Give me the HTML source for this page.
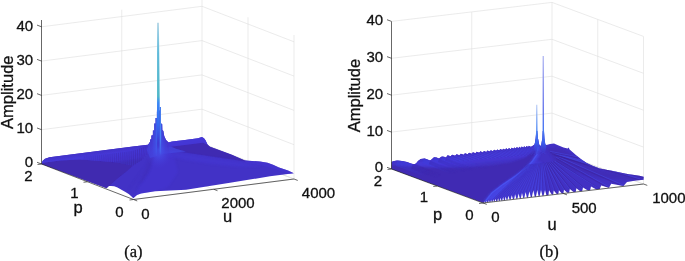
<!DOCTYPE html>
<html lang="en"><head><meta charset="utf-8"><title>Figure</title>
<style>html,body{margin:0;padding:0;background:#fff}body{width:685px;height:261px;overflow:hidden}svg{display:block}</style>
</head><body>
<svg width="685" height="261" viewBox="0 0 685 261">
<defs>
<linearGradient id="spikeA" gradientUnits="userSpaceOnUse" x1="0" y1="22.8" x2="0" y2="145" spreadMethod="pad">
<stop offset="0" stop-color="#b4d6e6"/><stop offset="0.1" stop-color="#8ecae2"/><stop offset="0.25" stop-color="#5fbada"/><stop offset="0.6" stop-color="#50b8c8"/><stop offset="0.655" stop-color="#3a88f5"/><stop offset="0.84" stop-color="#3468f0"/><stop offset="0.95" stop-color="#3a44dc"/><stop offset="1" stop-color="#3a34cc"/>
</linearGradient>
<linearGradient id="leftA" gradientUnits="userSpaceOnUse" x1="104" y1="190" x2="92" y2="158">
<stop offset="0" stop-color="#3b29b2"/><stop offset="0.5" stop-color="#3a31c6"/><stop offset="1" stop-color="#3a36d2"/>
</linearGradient>
<linearGradient id="fadeA" x1="0" y1="0" x2="0" y2="1"><stop offset="0" stop-color="#3a34cc" stop-opacity="0"/><stop offset="1" stop-color="#3a34cc" stop-opacity="1"/></linearGradient>
<linearGradient id="leftB" gradientUnits="userSpaceOnUse" x1="440" y1="190" x2="428" y2="158">
<stop offset="0" stop-color="#3b29b2"/><stop offset="0.5" stop-color="#3a31c8"/><stop offset="1" stop-color="#3a37d4"/></linearGradient>
<linearGradient id="spikeB1" gradientUnits="userSpaceOnUse" x1="0" y1="104.8" x2="0" y2="153">
<stop offset="0" stop-color="#b4c8f4"/><stop offset="0.25" stop-color="#7ea6f3"/><stop offset="0.55" stop-color="#4a86f5"/><stop offset="0.8" stop-color="#3a5cec"/><stop offset="1" stop-color="#3a40d8" stop-opacity="0.2"/></linearGradient>
<linearGradient id="spikeB2" gradientUnits="userSpaceOnUse" x1="0" y1="55.9" x2="0" y2="153">
<stop offset="0" stop-color="#b2b8f2"/><stop offset="0.25" stop-color="#8a94ee"/><stop offset="0.55" stop-color="#6676ec"/><stop offset="0.78" stop-color="#4478f5"/><stop offset="0.9" stop-color="#3a5cec"/><stop offset="1" stop-color="#3a40d8" stop-opacity="0.2"/></linearGradient>
<linearGradient id="fadeLt" x1="0" y1="0" x2="1" y2="1"><stop offset="0" stop-color="#3a40e0" stop-opacity="1"/><stop offset="1" stop-color="#3a40e0" stop-opacity="0"/></linearGradient>
<linearGradient id="fadeDk" x1="0" y1="0" x2="1" y2="1"><stop offset="0" stop-color="#3a24a6" stop-opacity="1"/><stop offset="1" stop-color="#3a24a6" stop-opacity="0"/></linearGradient>
<linearGradient id="wallA" gradientUnits="userSpaceOnUse" x1="100" y1="150.8" x2="101.9" y2="165.8">
<stop offset="0" stop-color="#4232c8"/><stop offset="0.3" stop-color="#4538d8"/><stop offset="0.75" stop-color="#4435d0"/><stop offset="1" stop-color="#4130be"/></linearGradient>
<linearGradient id="wallB" gradientUnits="userSpaceOnUse" x1="440" y1="157" x2="441.6" y2="170.5">
<stop offset="0" stop-color="#4232c8"/><stop offset="0.3" stop-color="#4539da"/><stop offset="0.7" stop-color="#4435d0"/><stop offset="1" stop-color="#4130be"/></linearGradient>
<radialGradient id="glowA"><stop offset="0" stop-color="#4658ee" stop-opacity="1"/><stop offset="0.45" stop-color="#4648e4" stop-opacity="0.6"/><stop offset="1" stop-color="#4438d4" stop-opacity="0"/></radialGradient>
<linearGradient id="maskGradA" gradientUnits="userSpaceOnUse" x1="0" y1="138" x2="0" y2="156"><stop offset="0" stop-color="#fff"/><stop offset="1" stop-color="#000"/></linearGradient>
<filter id="blur1" x="-20%" y="-20%" width="140%" height="140%"><feGaussianBlur stdDeviation="1.2"/></filter>
<filter id="blur05" x="-20%" y="-20%" width="140%" height="140%"><feGaussianBlur stdDeviation="0.6"/></filter>
<filter id="blur2" x="-20%" y="-20%" width="140%" height="140%"><feGaussianBlur stdDeviation="2.2"/></filter>
<linearGradient id="surfA" x1="0" y1="0" x2="1" y2="0">
<stop offset="0" stop-color="#3a32cc"/><stop offset="0.3" stop-color="#3a34d0"/><stop offset="0.5" stop-color="#3c2cb8"/><stop offset="1" stop-color="#3e2cc0"/>
</linearGradient>
</defs>
<rect width="685" height="261" fill="#fff"/>
<g id="plot-a">
<line x1="41.50" y1="164.00" x2="202.00" y2="143.50" stroke="#dedede" stroke-width="0.6"/>
<line x1="202.00" y1="143.50" x2="294.00" y2="179.00" stroke="#dedede" stroke-width="0.6"/>
<line x1="41.50" y1="129.70" x2="202.00" y2="109.20" stroke="#dedede" stroke-width="0.6"/>
<line x1="202.00" y1="109.20" x2="294.00" y2="144.70" stroke="#dedede" stroke-width="0.6"/>
<line x1="41.50" y1="95.40" x2="202.00" y2="74.90" stroke="#dedede" stroke-width="0.6"/>
<line x1="202.00" y1="74.90" x2="294.00" y2="110.40" stroke="#dedede" stroke-width="0.6"/>
<line x1="41.50" y1="61.10" x2="202.00" y2="40.60" stroke="#dedede" stroke-width="0.6"/>
<line x1="202.00" y1="40.60" x2="294.00" y2="76.10" stroke="#dedede" stroke-width="0.6"/>
<line x1="41.50" y1="26.80" x2="202.00" y2="6.30" stroke="#dedede" stroke-width="0.6"/>
<line x1="202.00" y1="6.30" x2="294.00" y2="41.80" stroke="#dedede" stroke-width="0.6"/>
<line x1="121.75" y1="153.75" x2="121.75" y2="9.75" stroke="#dedede" stroke-width="0.6"/>
<line x1="121.75" y1="153.75" x2="213.75" y2="189.25" stroke="#dedede" stroke-width="0.6"/>
<line x1="202.00" y1="143.50" x2="202.00" y2="-0.50" stroke="#dedede" stroke-width="0.6"/>
<line x1="202.00" y1="143.50" x2="294.00" y2="179.00" stroke="#dedede" stroke-width="0.6"/>
<line x1="248.00" y1="161.25" x2="248.00" y2="17.25" stroke="#dedede" stroke-width="0.6"/>
<line x1="87.50" y1="181.75" x2="248.00" y2="161.25" stroke="#dedede" stroke-width="0.6"/>
<line x1="294.00" y1="179.00" x2="294.00" y2="35.00" stroke="#dedede" stroke-width="0.6"/>
<line x1="133.50" y1="199.50" x2="294.00" y2="179.00" stroke="#dedede" stroke-width="0.6"/>
<polygon points="41.50,164.00 42.50,161.00 45.00,158.80 49.50,157.30 100.00,150.84 135.00,146.36 148.00,144.69 149.50,142.80 150.20,141.20 150.20,139.50 151.50,139.50 151.50,135.50 152.90,135.50 152.90,130.50 154.20,130.50 154.20,123.50 155.50,123.50 155.50,118.00 156.90,118.00 156.90,110.50 159.80,110.50 159.80,107.00 160.90,107.00 160.90,123.50 162.20,124.00 162.40,130.00 163.40,131.00 164.20,136.00 166.00,140.00 168.50,142.60 172.00,141.62 185.00,139.96 198.00,138.29 201.90,137.00 204.00,138.20 205.50,140.30 207.70,144.70 210.00,146.70 231.90,154.70 238.00,157.60 245.00,160.40 252.00,161.00 260.00,161.40 267.50,162.80 273.00,164.80 279.00,167.50 288.00,170.40 293.80,173.30 270.00,176.30 230.00,182.80 186.00,189.80 155.00,191.30 141.00,193.40 137.00,195.00 133.30,198.20 131.00,196.00 128.70,194.00 125.00,191.70 121.40,189.70 117.50,187.60 114.20,186.30 111.00,185.90 109.00,186.10 107.60,186.90 106.90,188.20" fill="#4232c6"/>
<clipPath id="clipA"><polygon points="41.50,164.00 42.50,161.00 45.00,158.80 49.50,157.30 100.00,150.84 135.00,146.36 148.00,144.69 149.50,142.80 150.20,141.20 150.20,139.50 151.50,139.50 151.50,135.50 152.90,135.50 152.90,130.50 154.20,130.50 154.20,123.50 155.50,123.50 155.50,118.00 156.90,118.00 156.90,110.50 159.80,110.50 159.80,107.00 160.90,107.00 160.90,123.50 162.20,124.00 162.40,130.00 163.40,131.00 164.20,136.00 166.00,140.00 168.50,142.60 172.00,141.62 185.00,139.96 198.00,138.29 201.90,137.00 204.00,138.20 205.50,140.30 207.70,144.70 210.00,146.70 231.90,154.70 238.00,157.60 245.00,160.40 252.00,161.00 260.00,161.40 267.50,162.80 273.00,164.80 279.00,167.50 288.00,170.40 293.80,173.30 270.00,176.30 230.00,182.80 186.00,189.80 155.00,191.30 141.00,193.40 137.00,195.00 133.30,198.20 131.00,196.00 128.70,194.00 125.00,191.70 121.40,189.70 117.50,187.60 114.20,186.30 111.00,185.90 109.00,186.10 107.60,186.90 106.90,188.20"/></clipPath>
<g clip-path="url(#clipA)">
<polygon points="38.00,165.00 45.00,162.50 60.00,160.60 80.00,159.60 100.00,161.00 117.60,162.60 127.00,164.50 133.00,165.50 126.50,171.50 117.60,178.50 110.60,184.70 106.90,188.50 100.00,192.00 38.00,168.00" fill="#3f29b0" filter="url(#blur05)"/>
<polygon points="38.00,164.00 38.00,150.00 153.00,134.00 153.00,146.80 147.60,153.80 140.60,160.90 133.00,165.50 127.00,164.50 117.60,162.60 100.00,161.00 80.00,159.60 60.00,160.60 45.00,162.50" fill="url(#wallA)" filter="url(#blur05)"/>
<line x1="84.0" y1="159.9" x2="84.4" y2="156.4" stroke="#3b239f" stroke-width="0.7" opacity="0.22"/>
<line x1="85.9" y1="160.0" x2="86.3" y2="156.2" stroke="#3b239f" stroke-width="0.7" opacity="0.23"/>
<line x1="87.8" y1="160.1" x2="88.2" y2="156.1" stroke="#3b239f" stroke-width="0.7" opacity="0.25"/>
<line x1="89.7" y1="160.3" x2="90.1" y2="155.9" stroke="#3b239f" stroke-width="0.7" opacity="0.26"/>
<line x1="91.6" y1="160.4" x2="92.0" y2="155.8" stroke="#3b239f" stroke-width="0.7" opacity="0.28"/>
<line x1="93.5" y1="160.5" x2="93.9" y2="155.6" stroke="#3b239f" stroke-width="0.7" opacity="0.29"/>
<line x1="95.4" y1="160.7" x2="95.8" y2="155.4" stroke="#3b239f" stroke-width="0.7" opacity="0.30"/>
<line x1="97.3" y1="160.8" x2="97.7" y2="155.2" stroke="#3b239f" stroke-width="0.7" opacity="0.32"/>
<line x1="99.2" y1="160.9" x2="99.6" y2="155.0" stroke="#3b239f" stroke-width="0.7" opacity="0.33"/>
<line x1="101.1" y1="161.1" x2="101.5" y2="154.9" stroke="#3b239f" stroke-width="0.7" opacity="0.35"/>
<line x1="103.0" y1="161.3" x2="103.4" y2="154.7" stroke="#3b239f" stroke-width="0.7" opacity="0.36"/>
<line x1="104.9" y1="161.4" x2="105.3" y2="154.4" stroke="#3b239f" stroke-width="0.7" opacity="0.37"/>
<line x1="106.8" y1="161.6" x2="107.2" y2="154.2" stroke="#3b239f" stroke-width="0.7" opacity="0.39"/>
<line x1="108.7" y1="161.8" x2="109.1" y2="154.0" stroke="#3b239f" stroke-width="0.7" opacity="0.40"/>
<line x1="110.6" y1="162.0" x2="111.0" y2="153.8" stroke="#3b239f" stroke-width="0.7" opacity="0.42"/>
<line x1="112.5" y1="162.1" x2="112.9" y2="153.5" stroke="#3b239f" stroke-width="0.7" opacity="0.43"/>
<line x1="114.4" y1="162.3" x2="114.8" y2="153.3" stroke="#3b239f" stroke-width="0.7" opacity="0.44"/>
<line x1="116.3" y1="162.5" x2="116.7" y2="153.0" stroke="#3b239f" stroke-width="0.7" opacity="0.46"/>
<line x1="118.2" y1="162.7" x2="118.6" y2="152.8" stroke="#3b239f" stroke-width="0.7" opacity="0.47"/>
<line x1="120.1" y1="163.1" x2="120.5" y2="152.5" stroke="#3b239f" stroke-width="0.7" opacity="0.49"/>
<line x1="122.0" y1="163.5" x2="122.4" y2="152.3" stroke="#3b239f" stroke-width="0.7" opacity="0.50"/>
<line x1="123.9" y1="163.9" x2="124.3" y2="152.0" stroke="#3b239f" stroke-width="0.7" opacity="0.51"/>
<line x1="125.8" y1="164.3" x2="126.2" y2="151.8" stroke="#3b239f" stroke-width="0.7" opacity="0.53"/>
<line x1="127.7" y1="164.6" x2="128.1" y2="151.5" stroke="#3b239f" stroke-width="0.7" opacity="0.54"/>
<line x1="129.6" y1="164.9" x2="130.0" y2="151.2" stroke="#3b239f" stroke-width="0.7" opacity="0.56"/>
<line x1="131.5" y1="165.3" x2="131.9" y2="150.9" stroke="#3b239f" stroke-width="0.7" opacity="0.57"/>
<line x1="133.4" y1="165.3" x2="133.8" y2="150.5" stroke="#3b239f" stroke-width="0.7" opacity="0.58"/>
<line x1="135.3" y1="164.1" x2="135.7" y2="149.8" stroke="#3b239f" stroke-width="0.7" opacity="0.60"/>
<line x1="137.2" y1="163.0" x2="137.6" y2="149.2" stroke="#3b239f" stroke-width="0.7" opacity="0.61"/>
<line x1="139.1" y1="161.8" x2="139.5" y2="148.6" stroke="#3b239f" stroke-width="0.7" opacity="0.63"/>
<line x1="141.0" y1="160.5" x2="141.4" y2="148.0" stroke="#3b239f" stroke-width="0.7" opacity="0.64"/>
<line x1="142.9" y1="158.6" x2="143.3" y2="147.4" stroke="#3b239f" stroke-width="0.7" opacity="0.65"/>
<line x1="144.8" y1="156.6" x2="145.2" y2="146.7" stroke="#3b239f" stroke-width="0.7" opacity="0.67"/>
<line x1="146.7" y1="154.7" x2="147.1" y2="146.2" stroke="#3b239f" stroke-width="0.7" opacity="0.68"/>
<line x1="148.6" y1="152.5" x2="149.0" y2="145.6" stroke="#3b239f" stroke-width="0.7" opacity="0.70"/>
<line x1="150.5" y1="150.0" x2="150.9" y2="145.0" stroke="#3b239f" stroke-width="0.7" opacity="0.71"/>
<polygon points="157.00,149.00 153.00,160.00 148.70,172.50 143.00,181.00 138.70,186.00 134.00,197.50 150.00,194.00 168.00,187.00 178.00,172.00 174.00,156.00 166.00,149.00" fill="#4639da" opacity="0.35" filter="url(#blur1)"/>
<polygon points="134.00,197.50 138.70,186.00 143.00,181.00 148.70,172.50 153.00,160.00 157.00,149.00 127.00,191.00 135.00,181.00 142.00,171.00 148.00,160.00 152.00,152.00" fill="#3f2ab2" opacity="0.3" filter="url(#blur1)"/>
<polygon points="165.00,146.50 185.00,143.80 201.00,141.20 206.00,143.50 220.00,150.00 239.00,157.50 248.00,161.50 239.00,160.60 213.00,156.80 186.50,152.80 170.60,150.20" fill="#3f29b0" opacity="0.9" filter="url(#blur05)"/>
<polygon points="166.00,149.00 170.60,151.20 186.50,153.80 213.00,157.80 239.00,161.60 262.00,166.00 240.00,167.00 210.00,164.00 185.00,160.00 168.00,156.00" fill="#4538d6" opacity="0.5" filter="url(#blur1)"/>
<polygon points="159.70,138.00 165.00,139.50 168.00,144.00 172.00,147.00 176.00,148.80 186.00,151.50 172.00,153.00 160.00,154.00" fill="#4446e0" opacity="0.8" filter="url(#blur05)"/>
<polygon points="157.00,138.00 151.00,139.50 148.50,144.00 147.00,150.00 150.00,158.00 157.00,156.00" fill="#4446e0" opacity="0.7" filter="url(#blur05)"/>
<ellipse cx="159" cy="150" rx="14" ry="19" fill="url(#glowA)"/>
<polygon points="166.00,138.00 202.00,134.50 206.00,140.00 208.00,145.00 203.00,142.80 185.00,145.00 167.00,147.30" fill="#4538d8" opacity="0.9" filter="url(#blur05)"/>
<polygon points="244.00,159.00 260.00,160.40 268.00,161.80 280.00,167.00 295.00,172.40 292.00,175.00 276.00,169.50 262.00,165.50 246.00,163.00" fill="#4436d2" opacity="0.6" filter="url(#blur05)"/>
</g>
<mask id="maskA" maskUnits="userSpaceOnUse" x="140" y="0" width="40" height="170"><rect x="140" y="0" width="40" height="170" fill="url(#maskGradA)"/></mask>
<g clip-path="url(#clipA)"><g mask="url(#maskA)">
<polygon points="157.00,160.00 157.00,100.00 157.10,22.80 158.90,22.80 159.70,100.00 159.70,160.00" fill="url(#spikeA)"/>
<rect x="155.5" y="112.0" width="1.6" height="48.0" fill="#3d5ee9"/>
<rect x="154.2" y="117.5" width="1.5" height="42.5" fill="#3f50e2"/>
<rect x="152.9" y="124.5" width="1.4" height="35.5" fill="#4145da"/>
<rect x="151.5" y="129.5" width="1.5" height="30.5" fill="#423dd4"/>
<rect x="150.2" y="133.5" width="1.4" height="26.5" fill="#4338ce"/>
<rect x="159.7" y="101.0" width="1.3" height="59.0" fill="#4684f2"/>
<rect x="161.0" y="117.5" width="1.4" height="42.5" fill="#3f50e2"/>
<rect x="162.3" y="124.5" width="1.4" height="35.5" fill="#4145da"/>
<rect x="163.6" y="129.5" width="1.5" height="30.5" fill="#423dd4"/>
<rect x="165.0" y="133.5" width="1.5" height="26.5" fill="#4338ce"/>
<rect x="166.4" y="136" width="3" height="24" fill="#4336cc"/>
</g></g>
<polygon points="157.00,111.00 157.05,100.00 157.10,22.80 158.90,22.80 159.70,100.00 159.70,111.00" fill="url(#spikeA)"/>
</g>
<line x1="41.50" y1="164.00" x2="41.50" y2="20.00" stroke="#262626" stroke-width="0.7"/>
<line x1="41.50" y1="164.00" x2="133.50" y2="199.50" stroke="#262626" stroke-width="0.7"/>
<line x1="133.50" y1="199.50" x2="294.00" y2="179.00" stroke="#262626" stroke-width="0.7"/>
<line x1="41.50" y1="164.00" x2="37.02" y2="162.27" stroke="#262626" stroke-width="0.7"/>
<line x1="41.50" y1="129.70" x2="37.02" y2="127.97" stroke="#262626" stroke-width="0.7"/>
<line x1="41.50" y1="95.40" x2="37.02" y2="93.67" stroke="#262626" stroke-width="0.7"/>
<line x1="41.50" y1="61.10" x2="37.02" y2="59.37" stroke="#262626" stroke-width="0.7"/>
<line x1="41.50" y1="26.80" x2="37.02" y2="25.07" stroke="#262626" stroke-width="0.7"/>
<line x1="41.50" y1="164.00" x2="37.53" y2="164.51" stroke="#262626" stroke-width="0.7"/>
<line x1="87.50" y1="181.75" x2="83.53" y2="182.26" stroke="#262626" stroke-width="0.7"/>
<line x1="133.50" y1="199.50" x2="129.53" y2="200.01" stroke="#262626" stroke-width="0.7"/>
<line x1="133.50" y1="199.50" x2="137.23" y2="200.94" stroke="#262626" stroke-width="0.7"/>
<line x1="213.75" y1="189.25" x2="217.48" y2="190.69" stroke="#262626" stroke-width="0.7"/>
<line x1="294.00" y1="179.00" x2="297.73" y2="180.44" stroke="#262626" stroke-width="0.7"/>
<text x="33.10" y="30.70" font-size="15" font-family='"Liberation Sans", Arial, sans-serif' text-anchor="end" fill="#111" stroke="#111" stroke-width="0.3" >40</text>
<text x="33.10" y="64.80" font-size="15" font-family='"Liberation Sans", Arial, sans-serif' text-anchor="end" fill="#111" stroke="#111" stroke-width="0.3" >30</text>
<text x="33.10" y="99.00" font-size="15" font-family='"Liberation Sans", Arial, sans-serif' text-anchor="end" fill="#111" stroke="#111" stroke-width="0.3" >20</text>
<text x="33.10" y="133.10" font-size="15" font-family='"Liberation Sans", Arial, sans-serif' text-anchor="end" fill="#111" stroke="#111" stroke-width="0.3" >10</text>
<text x="33.10" y="166.60" font-size="15" font-family='"Liberation Sans", Arial, sans-serif' text-anchor="end" fill="#111" stroke="#111" stroke-width="0.3" >0</text>
<text x="28.40" y="181.30" font-size="15" font-family='"Liberation Sans", Arial, sans-serif' text-anchor="middle" fill="#111" stroke="#111" stroke-width="0.3" >2</text>
<text x="74.30" y="198.20" font-size="15" font-family='"Liberation Sans", Arial, sans-serif' text-anchor="middle" fill="#111" stroke="#111" stroke-width="0.3" >1</text>
<text x="119.50" y="216.50" font-size="15" font-family='"Liberation Sans", Arial, sans-serif' text-anchor="middle" fill="#111" stroke="#111" stroke-width="0.3" >0</text>
<text x="145.30" y="218.80" font-size="15" font-family='"Liberation Sans", Arial, sans-serif' text-anchor="middle" fill="#111" stroke="#111" stroke-width="0.3" >0</text>
<text x="238.00" y="208.30" font-size="15" font-family='"Liberation Sans", Arial, sans-serif' text-anchor="middle" fill="#111" stroke="#111" stroke-width="0.3" >2000</text>
<text x="318.50" y="198.20" font-size="15" font-family='"Liberation Sans", Arial, sans-serif' text-anchor="middle" fill="#111" stroke="#111" stroke-width="0.3" >4000</text>
<text x="78.00" y="212.80" font-size="16.5" font-family='"Liberation Sans", Arial, sans-serif' text-anchor="middle" fill="#111" stroke="#111" stroke-width="0.3" >p</text>
<text x="227.50" y="221.70" font-size="16.5" font-family='"Liberation Sans", Arial, sans-serif' text-anchor="middle" fill="#111" stroke="#111" stroke-width="0.3" >u</text>
<text transform="translate(12.7,92.2) rotate(-90)" font-size="16.5" font-family='"Liberation Sans", Arial, sans-serif' text-anchor="middle" fill="#111" stroke="#111" stroke-width="0.3">Amplitude</text>
<text x="133.40" y="257.00" font-size="16.5" font-family='"Liberation Serif", "Times New Roman", serif' text-anchor="middle" fill="#111" stroke="#111" stroke-width="0.3" >(a)</text>
<g id="plot-b">
<line x1="391.50" y1="169.00" x2="552.00" y2="150.00" stroke="#dedede" stroke-width="0.6"/>
<line x1="552.00" y1="150.00" x2="643.50" y2="184.00" stroke="#dedede" stroke-width="0.6"/>
<line x1="391.50" y1="132.10" x2="552.00" y2="113.10" stroke="#dedede" stroke-width="0.6"/>
<line x1="552.00" y1="113.10" x2="643.50" y2="147.10" stroke="#dedede" stroke-width="0.6"/>
<line x1="391.50" y1="95.20" x2="552.00" y2="76.20" stroke="#dedede" stroke-width="0.6"/>
<line x1="552.00" y1="76.20" x2="643.50" y2="110.20" stroke="#dedede" stroke-width="0.6"/>
<line x1="391.50" y1="58.30" x2="552.00" y2="39.30" stroke="#dedede" stroke-width="0.6"/>
<line x1="552.00" y1="39.30" x2="643.50" y2="73.30" stroke="#dedede" stroke-width="0.6"/>
<line x1="391.50" y1="21.40" x2="552.00" y2="2.40" stroke="#dedede" stroke-width="0.6"/>
<line x1="552.00" y1="2.40" x2="643.50" y2="36.40" stroke="#dedede" stroke-width="0.6"/>
<line x1="471.75" y1="159.50" x2="471.75" y2="12.00" stroke="#dedede" stroke-width="0.6"/>
<line x1="471.75" y1="159.50" x2="563.25" y2="193.50" stroke="#dedede" stroke-width="0.6"/>
<line x1="552.00" y1="150.00" x2="552.00" y2="2.50" stroke="#dedede" stroke-width="0.6"/>
<line x1="552.00" y1="150.00" x2="643.50" y2="184.00" stroke="#dedede" stroke-width="0.6"/>
<line x1="597.75" y1="167.00" x2="597.75" y2="19.50" stroke="#dedede" stroke-width="0.6"/>
<line x1="437.25" y1="186.00" x2="597.75" y2="167.00" stroke="#dedede" stroke-width="0.6"/>
<line x1="643.50" y1="184.00" x2="643.50" y2="36.50" stroke="#dedede" stroke-width="0.6"/>
<line x1="483.00" y1="203.00" x2="643.50" y2="184.00" stroke="#dedede" stroke-width="0.6"/>
<polygon points="391.60,169.00 391.60,162.20 393.00,161.20 397.00,160.60 402.00,160.90 407.00,162.00 411.00,163.40 414.00,164.30 416.00,163.50 418.00,161.00 420.70,159.00 424.70,158.50 427.50,159.40 430.00,160.60 431.50,159.60 434.00,157.20 436.50,157.50 439.00,158.50 440.30,157.50 441.90,156.40 444.00,156.80 446.00,157.40 447.61,155.21 450.60,156.16 452.16,154.68 455.06,155.64 456.58,154.16 459.39,155.13 460.86,153.66 463.59,154.64 465.01,153.17 467.66,154.16 469.04,152.70 471.61,153.70 472.95,152.24 475.44,153.25 476.74,151.80 479.16,152.82 480.42,151.37 482.76,152.40 483.99,150.95 486.26,151.99 487.45,150.55 489.65,151.59 490.81,150.16 492.94,151.21 494.06,149.77 496.14,150.83 497.22,149.41 499.23,150.47 500.28,149.05 502.23,150.12 503.25,148.70 505.15,149.78 506.14,148.36 507.97,149.45 508.93,148.03 510.71,149.13 511.64,147.72 513.37,148.82 514.28,147.41 515.95,148.51 516.83,147.11 518.45,148.22 519.30,146.82 520.88,147.94 521.72,146.54 523.28,147.66 524.12,146.26 525.68,147.38 526.52,145.98 528.08,147.09 528.92,145.70 530.48,146.81 531.70,146.60 534.60,144.50 535.70,138.50 536.20,131.00 537.45,131.00 538.00,138.50 539.20,144.30 540.30,146.00 541.20,144.50 542.30,138.50 542.65,131.00 543.95,131.00 544.50,138.50 545.30,144.20 546.50,145.00 550.00,144.00 554.00,143.60 558.00,145.20 563.50,147.60 567.60,148.60 568.60,147.40 569.60,149.60 572.50,152.00 575.90,155.00 581.00,159.00 586.50,163.00 593.00,166.00 599.70,168.40 606.00,169.80 613.00,171.10 626.00,173.70 639.40,175.70 643.60,176.80 643.60,179.80 636.00,180.50 630.00,181.40 627.00,181.90 623.50,186.06 611.20,183.82 609.00,187.78 601.20,185.41 599.70,188.98 483.20,202.80" fill="#4231c4"/>
<clipPath id="clipB"><polygon points="391.60,169.00 391.60,162.20 393.00,161.20 397.00,160.60 402.00,160.90 407.00,162.00 411.00,163.40 414.00,164.30 416.00,163.50 418.00,161.00 420.70,159.00 424.70,158.50 427.50,159.40 430.00,160.60 431.50,159.60 434.00,157.20 436.50,157.50 439.00,158.50 440.30,157.50 441.90,156.40 444.00,156.80 446.00,157.40 447.61,155.21 450.60,156.16 452.16,154.68 455.06,155.64 456.58,154.16 459.39,155.13 460.86,153.66 463.59,154.64 465.01,153.17 467.66,154.16 469.04,152.70 471.61,153.70 472.95,152.24 475.44,153.25 476.74,151.80 479.16,152.82 480.42,151.37 482.76,152.40 483.99,150.95 486.26,151.99 487.45,150.55 489.65,151.59 490.81,150.16 492.94,151.21 494.06,149.77 496.14,150.83 497.22,149.41 499.23,150.47 500.28,149.05 502.23,150.12 503.25,148.70 505.15,149.78 506.14,148.36 507.97,149.45 508.93,148.03 510.71,149.13 511.64,147.72 513.37,148.82 514.28,147.41 515.95,148.51 516.83,147.11 518.45,148.22 519.30,146.82 520.88,147.94 521.72,146.54 523.28,147.66 524.12,146.26 525.68,147.38 526.52,145.98 528.08,147.09 528.92,145.70 530.48,146.81 531.70,146.60 534.60,144.50 535.70,138.50 536.20,131.00 537.45,131.00 538.00,138.50 539.20,144.30 540.30,146.00 541.20,144.50 542.30,138.50 542.65,131.00 543.95,131.00 544.50,138.50 545.30,144.20 546.50,145.00 550.00,144.00 554.00,143.60 558.00,145.20 563.50,147.60 567.60,148.60 568.60,147.40 569.60,149.60 572.50,152.00 575.90,155.00 581.00,159.00 586.50,163.00 593.00,166.00 599.70,168.40 606.00,169.80 613.00,171.10 626.00,173.70 639.40,175.70 643.60,176.80 643.60,179.80 636.00,180.50 630.00,181.40 627.00,181.90 623.50,186.06 611.20,183.82 609.00,187.78 601.20,185.41 599.70,188.98 483.20,202.80"/></clipPath>
<g clip-path="url(#clipB)">
<polygon points="388.00,164.00 400.00,165.00 420.00,166.50 440.00,167.20 465.00,166.80 490.00,165.00 510.00,162.00 525.00,157.00 533.00,151.00 535.30,155.00 531.00,161.50 526.00,167.00 515.00,175.50 501.70,184.60 491.00,192.70 484.00,201.50 470.00,206.00 385.00,172.00" fill="#3f2ab3" filter="url(#blur1)"/>
<polygon points="385.00,165.00 385.00,150.00 540.00,135.00 537.00,147.00 533.00,151.00 525.00,157.00 510.00,162.00 490.00,165.00 465.00,166.80 440.00,167.20 420.00,166.50 400.00,165.00 388.00,164.00" fill="url(#wallB)" filter="url(#blur1)"/>
<polygon points="537.00,147.00 535.30,155.00 531.00,161.50 526.00,167.00 515.00,175.50 501.70,184.60 491.00,192.70 484.00,201.50 494.00,200.00 504.00,190.00 517.00,179.50 528.00,171.00 535.00,163.00 539.50,155.00 541.00,148.00" fill="#4648ea" opacity="0.8" filter="url(#blur1)"/>
<polyline points="538.20,147.00 536.50,155.00 532.20,161.50 527.20,167.00 516.20,175.50 502.90,184.60 492.20,192.70 485.20,201.50" fill="none" stroke="#4a54f2" stroke-width="1.3" opacity="0.85" filter="url(#blur05)"/>
<polygon points="537.00,160.00 528.00,171.00 517.00,179.50 504.00,190.00 494.00,200.00 545.00,195.00 545.00,165.00" fill="#4540de" opacity="0.55" filter="url(#blur1)"/>
<polygon points="547.00,149.00 556.00,147.00 565.00,150.00 580.00,160.00 600.00,170.00 644.00,178.50 644.00,181.00 600.00,178.00 575.00,172.00 555.00,162.00" fill="#3f29b0" opacity="0.6" filter="url(#blur1)"/>
<line x1="556.0" y1="161.3" x2="599.7" y2="189.2" stroke="#3c239f" stroke-width="1.3" opacity="0.60"/>
<line x1="555.1" y1="161.3" x2="598.7" y2="188.7" stroke="#4a52f0" stroke-width="1.0" opacity="0.48"/>
<line x1="552.9" y1="161.7" x2="587.0" y2="190.7" stroke="#3c239f" stroke-width="1.3" opacity="0.60"/>
<line x1="552.0" y1="161.7" x2="586.0" y2="190.2" stroke="#4a52f0" stroke-width="1.0" opacity="0.48"/>
<line x1="551.0" y1="161.9" x2="579.7" y2="191.6" stroke="#3c239f" stroke-width="1.3" opacity="0.60"/>
<line x1="550.1" y1="161.9" x2="578.7" y2="191.1" stroke="#4a52f0" stroke-width="1.0" opacity="0.48"/>
<line x1="549.4" y1="162.1" x2="573.1" y2="192.3" stroke="#3c239f" stroke-width="1.3" opacity="0.60"/>
<line x1="548.5" y1="162.1" x2="572.1" y2="191.8" stroke="#4a52f0" stroke-width="1.0" opacity="0.48"/>
<line x1="547.9" y1="162.3" x2="566.9" y2="193.1" stroke="#3c239f" stroke-width="1.3" opacity="0.60"/>
<line x1="547.0" y1="162.3" x2="565.9" y2="192.6" stroke="#4a52f0" stroke-width="1.0" opacity="0.48"/>
<line x1="546.5" y1="162.4" x2="561.5" y2="193.7" stroke="#3c239f" stroke-width="1.3" opacity="0.60"/>
<line x1="545.6" y1="162.4" x2="560.5" y2="193.2" stroke="#4a52f0" stroke-width="1.0" opacity="0.48"/>
<line x1="545.2" y1="162.6" x2="556.3" y2="194.3" stroke="#3c239f" stroke-width="0.7" opacity="0.60"/>
<line x1="544.3" y1="162.6" x2="555.3" y2="193.8" stroke="#4a52f0" stroke-width="0.6" opacity="0.48"/>
<line x1="544.0" y1="162.7" x2="551.4" y2="194.9" stroke="#3c239f" stroke-width="0.7" opacity="0.60"/>
<line x1="543.1" y1="162.7" x2="550.4" y2="194.4" stroke="#4a52f0" stroke-width="0.6" opacity="0.48"/>
<line x1="542.9" y1="162.9" x2="547.0" y2="195.4" stroke="#3c239f" stroke-width="0.7" opacity="0.60"/>
<line x1="542.0" y1="162.9" x2="546.0" y2="194.9" stroke="#4a52f0" stroke-width="0.6" opacity="0.48"/>
<line x1="541.9" y1="163.0" x2="543.0" y2="195.9" stroke="#3c239f" stroke-width="0.7" opacity="0.60"/>
<line x1="541.0" y1="163.0" x2="542.0" y2="195.4" stroke="#4a52f0" stroke-width="0.6" opacity="0.48"/>
<line x1="540.9" y1="163.1" x2="539.1" y2="196.4" stroke="#3c239f" stroke-width="0.7" opacity="0.60"/>
<line x1="540.0" y1="163.1" x2="538.1" y2="195.9" stroke="#4a52f0" stroke-width="0.6" opacity="0.48"/>
<line x1="540.0" y1="163.2" x2="535.3" y2="196.8" stroke="#3c239f" stroke-width="0.7" opacity="0.60"/>
<line x1="539.1" y1="163.2" x2="534.3" y2="196.3" stroke="#4a52f0" stroke-width="0.6" opacity="0.48"/>
<line x1="539.0" y1="163.3" x2="531.3" y2="197.3" stroke="#3c239f" stroke-width="0.7" opacity="0.60"/>
<line x1="538.1" y1="163.3" x2="530.3" y2="196.8" stroke="#4a52f0" stroke-width="0.6" opacity="0.48"/>
<line x1="538.0" y1="163.4" x2="527.5" y2="197.7" stroke="#3c239f" stroke-width="0.7" opacity="0.35"/>
<line x1="537.1" y1="163.4" x2="526.5" y2="197.2" stroke="#4a52f0" stroke-width="0.6" opacity="0.28"/>
<line x1="537.1" y1="163.5" x2="523.8" y2="198.2" stroke="#3c239f" stroke-width="0.7" opacity="0.35"/>
<line x1="536.2" y1="163.5" x2="522.8" y2="197.7" stroke="#4a52f0" stroke-width="0.6" opacity="0.28"/>
<line x1="536.2" y1="163.6" x2="520.3" y2="198.6" stroke="#3c239f" stroke-width="0.7" opacity="0.35"/>
<line x1="535.3" y1="163.6" x2="519.3" y2="198.1" stroke="#4a52f0" stroke-width="0.6" opacity="0.28"/>
<line x1="535.4" y1="163.7" x2="516.9" y2="199.0" stroke="#3c239f" stroke-width="0.7" opacity="0.35"/>
<line x1="534.5" y1="163.7" x2="515.9" y2="198.5" stroke="#4a52f0" stroke-width="0.6" opacity="0.28"/>
<line x1="534.5" y1="163.8" x2="513.5" y2="199.4" stroke="#3c239f" stroke-width="0.7" opacity="0.35"/>
<line x1="533.6" y1="163.8" x2="512.5" y2="198.9" stroke="#4a52f0" stroke-width="0.6" opacity="0.28"/>
<line x1="533.7" y1="163.9" x2="510.1" y2="199.8" stroke="#3c239f" stroke-width="0.7" opacity="0.35"/>
<line x1="532.8" y1="163.9" x2="509.1" y2="199.3" stroke="#4a52f0" stroke-width="0.6" opacity="0.28"/>
<line x1="532.9" y1="164.0" x2="507.1" y2="200.1" stroke="#3c239f" stroke-width="0.7" opacity="0.35"/>
<line x1="532.0" y1="164.0" x2="506.1" y2="199.6" stroke="#4a52f0" stroke-width="0.6" opacity="0.28"/>
<line x1="532.2" y1="164.1" x2="504.4" y2="200.5" stroke="#3c239f" stroke-width="0.7" opacity="0.35"/>
<line x1="531.3" y1="164.1" x2="503.4" y2="200.0" stroke="#4a52f0" stroke-width="0.6" opacity="0.28"/>
<line x1="531.6" y1="164.2" x2="501.9" y2="200.8" stroke="#3c239f" stroke-width="0.7" opacity="0.35"/>
<line x1="530.7" y1="164.2" x2="500.9" y2="200.3" stroke="#4a52f0" stroke-width="0.6" opacity="0.28"/>
<line x1="531.0" y1="164.3" x2="499.4" y2="201.1" stroke="#3c239f" stroke-width="0.7" opacity="0.35"/>
<line x1="530.1" y1="164.3" x2="498.4" y2="200.6" stroke="#4a52f0" stroke-width="0.6" opacity="0.28"/>
<line x1="530.3" y1="164.3" x2="496.8" y2="201.4" stroke="#3c239f" stroke-width="0.7" opacity="0.35"/>
<line x1="529.4" y1="164.3" x2="495.8" y2="200.9" stroke="#4a52f0" stroke-width="0.6" opacity="0.28"/>
<line x1="529.7" y1="164.4" x2="494.4" y2="201.7" stroke="#3c239f" stroke-width="0.7" opacity="0.35"/>
<line x1="528.8" y1="164.4" x2="493.4" y2="201.2" stroke="#4a52f0" stroke-width="0.6" opacity="0.28"/>
<line x1="529.2" y1="164.5" x2="492.2" y2="201.9" stroke="#3c239f" stroke-width="0.7" opacity="0.35"/>
<line x1="528.3" y1="164.5" x2="491.2" y2="201.4" stroke="#4a52f0" stroke-width="0.6" opacity="0.28"/>
<line x1="528.6" y1="164.5" x2="490.0" y2="202.2" stroke="#3c239f" stroke-width="0.7" opacity="0.35"/>
<line x1="527.7" y1="164.5" x2="489.0" y2="201.7" stroke="#4a52f0" stroke-width="0.6" opacity="0.28"/>
<line x1="556.2" y1="158.4" x2="609.0" y2="188.1" stroke="#3c239f" stroke-width="1.3" opacity="0.5"/>
<line x1="556.2" y1="157.3" x2="609.0" y2="187.0" stroke="#4a52f0" stroke-width="1.0" opacity="0.4"/>
<line x1="559.1" y1="158.1" x2="623.5" y2="186.4" stroke="#3c239f" stroke-width="1.3" opacity="0.5"/>
<line x1="559.1" y1="157.0" x2="623.5" y2="185.3" stroke="#4a52f0" stroke-width="1.0" opacity="0.4"/>
<line x1="562.4" y1="156.8" x2="640.0" y2="180.0" stroke="#3c239f" stroke-width="1.3" opacity="0.5"/>
<line x1="562.4" y1="155.7" x2="640.0" y2="178.9" stroke="#4a52f0" stroke-width="1.0" opacity="0.4"/>
<line x1="563.2" y1="156.3" x2="644.0" y2="177.5" stroke="#3c239f" stroke-width="1.3" opacity="0.5"/>
<line x1="563.2" y1="155.2" x2="644.0" y2="176.4" stroke="#4a52f0" stroke-width="1.0" opacity="0.4"/>
<line x1="560.0" y1="155.7" x2="628.0" y2="174.5" stroke="#3c239f" stroke-width="1.3" opacity="0.5"/>
<line x1="560.0" y1="154.6" x2="628.0" y2="173.4" stroke="#4a52f0" stroke-width="1.0" opacity="0.4"/>
<line x1="557.0" y1="155.2" x2="613.0" y2="172.0" stroke="#3c239f" stroke-width="1.3" opacity="0.5"/>
<line x1="557.0" y1="154.1" x2="613.0" y2="170.9" stroke="#4a52f0" stroke-width="1.0" opacity="0.4"/>
<line x1="554.4" y1="154.7" x2="600.0" y2="169.5" stroke="#3c239f" stroke-width="1.3" opacity="0.5"/>
<line x1="554.4" y1="153.6" x2="600.0" y2="168.4" stroke="#4a52f0" stroke-width="1.0" opacity="0.4"/>
<line x1="552.0" y1="153.8" x2="588.0" y2="165.0" stroke="#3c239f" stroke-width="1.3" opacity="0.5"/>
<line x1="552.0" y1="152.7" x2="588.0" y2="163.9" stroke="#4a52f0" stroke-width="1.0" opacity="0.4"/>
<line x1="550.0" y1="152.4" x2="578.0" y2="158.0" stroke="#3c239f" stroke-width="1.3" opacity="0.5"/>
<line x1="550.0" y1="151.3" x2="578.0" y2="156.9" stroke="#4a52f0" stroke-width="1.0" opacity="0.4"/>
<line x1="448.0" y1="156.6" x2="459.2" y2="160.9" stroke="#3b239f" stroke-width="0.8" opacity="0.3"/>
<line x1="449.3" y1="156.6" x2="460.5" y2="160.9" stroke="#4a54f2" stroke-width="0.8" opacity="0.3"/>
<line x1="452.6" y1="156.0" x2="464.1" y2="160.5" stroke="#3b239f" stroke-width="0.8" opacity="0.3"/>
<line x1="453.9" y1="156.0" x2="465.4" y2="160.5" stroke="#4a54f2" stroke-width="0.8" opacity="0.3"/>
<line x1="457.1" y1="155.5" x2="468.9" y2="160.1" stroke="#3b239f" stroke-width="0.8" opacity="0.3"/>
<line x1="458.4" y1="155.5" x2="470.2" y2="160.1" stroke="#4a54f2" stroke-width="0.8" opacity="0.3"/>
<line x1="461.4" y1="155.0" x2="473.5" y2="159.7" stroke="#3b239f" stroke-width="0.8" opacity="0.3"/>
<line x1="462.7" y1="155.0" x2="474.8" y2="159.7" stroke="#4a54f2" stroke-width="0.8" opacity="0.3"/>
<line x1="465.6" y1="154.5" x2="478.0" y2="159.3" stroke="#3b239f" stroke-width="0.8" opacity="0.3"/>
<line x1="466.9" y1="154.5" x2="479.3" y2="159.3" stroke="#4a54f2" stroke-width="0.8" opacity="0.3"/>
<line x1="469.7" y1="154.0" x2="482.3" y2="158.9" stroke="#3b239f" stroke-width="0.8" opacity="0.3"/>
<line x1="471.0" y1="154.0" x2="483.6" y2="158.9" stroke="#4a54f2" stroke-width="0.8" opacity="0.3"/>
<line x1="473.6" y1="153.6" x2="486.5" y2="158.6" stroke="#3b239f" stroke-width="0.8" opacity="0.3"/>
<line x1="474.9" y1="153.6" x2="487.8" y2="158.6" stroke="#4a54f2" stroke-width="0.8" opacity="0.3"/>
<line x1="477.4" y1="153.1" x2="490.6" y2="158.2" stroke="#3b239f" stroke-width="0.8" opacity="0.3"/>
<line x1="478.7" y1="153.1" x2="491.9" y2="158.2" stroke="#4a54f2" stroke-width="0.8" opacity="0.3"/>
<line x1="481.2" y1="152.7" x2="494.6" y2="157.9" stroke="#3b239f" stroke-width="0.8" opacity="0.3"/>
<line x1="482.5" y1="152.7" x2="495.9" y2="157.9" stroke="#4a54f2" stroke-width="0.8" opacity="0.3"/>
<line x1="484.8" y1="152.3" x2="498.5" y2="157.6" stroke="#3b239f" stroke-width="0.8" opacity="0.3"/>
<line x1="486.1" y1="152.3" x2="499.8" y2="157.6" stroke="#4a54f2" stroke-width="0.8" opacity="0.3"/>
<line x1="488.3" y1="151.9" x2="502.2" y2="157.2" stroke="#3b239f" stroke-width="0.8" opacity="0.3"/>
<line x1="489.6" y1="151.9" x2="503.5" y2="157.2" stroke="#4a54f2" stroke-width="0.8" opacity="0.3"/>
<line x1="491.7" y1="151.5" x2="505.8" y2="156.9" stroke="#3b239f" stroke-width="0.8" opacity="0.3"/>
<line x1="493.0" y1="151.5" x2="507.1" y2="156.9" stroke="#4a54f2" stroke-width="0.8" opacity="0.3"/>
<line x1="494.9" y1="151.1" x2="509.3" y2="156.6" stroke="#3b239f" stroke-width="0.8" opacity="0.3"/>
<line x1="496.2" y1="151.1" x2="510.6" y2="156.6" stroke="#4a54f2" stroke-width="0.8" opacity="0.3"/>
<line x1="498.1" y1="150.7" x2="512.7" y2="156.4" stroke="#3b239f" stroke-width="0.8" opacity="0.3"/>
<line x1="499.4" y1="150.7" x2="514.0" y2="156.4" stroke="#4a54f2" stroke-width="0.8" opacity="0.3"/>
<line x1="501.2" y1="150.3" x2="516.1" y2="156.1" stroke="#3b239f" stroke-width="0.8" opacity="0.3"/>
<line x1="502.5" y1="150.3" x2="517.4" y2="156.1" stroke="#4a54f2" stroke-width="0.8" opacity="0.3"/>
<line x1="504.2" y1="150.0" x2="519.3" y2="155.8" stroke="#3b239f" stroke-width="0.8" opacity="0.3"/>
<line x1="505.5" y1="150.0" x2="520.6" y2="155.8" stroke="#4a54f2" stroke-width="0.8" opacity="0.3"/>
<line x1="507.1" y1="149.6" x2="522.4" y2="155.5" stroke="#3b239f" stroke-width="0.8" opacity="0.3"/>
<line x1="508.4" y1="149.6" x2="523.7" y2="155.5" stroke="#4a54f2" stroke-width="0.8" opacity="0.3"/>
<line x1="510.0" y1="149.3" x2="525.4" y2="155.3" stroke="#3b239f" stroke-width="0.8" opacity="0.3"/>
<line x1="511.3" y1="149.3" x2="526.7" y2="155.3" stroke="#4a54f2" stroke-width="0.8" opacity="0.3"/>
<line x1="512.7" y1="149.0" x2="528.3" y2="155.0" stroke="#3b239f" stroke-width="0.8" opacity="0.3"/>
<line x1="514.0" y1="149.0" x2="529.6" y2="155.0" stroke="#4a54f2" stroke-width="0.8" opacity="0.3"/>
<line x1="515.4" y1="148.7" x2="531.2" y2="154.8" stroke="#3b239f" stroke-width="0.8" opacity="0.3"/>
<line x1="516.7" y1="148.7" x2="532.5" y2="154.8" stroke="#4a54f2" stroke-width="0.8" opacity="0.3"/>
<line x1="518.0" y1="148.4" x2="533.9" y2="154.6" stroke="#3b239f" stroke-width="0.8" opacity="0.3"/>
<line x1="519.3" y1="148.4" x2="535.2" y2="154.6" stroke="#4a54f2" stroke-width="0.8" opacity="0.3"/>
<line x1="520.5" y1="148.1" x2="536.6" y2="154.3" stroke="#3b239f" stroke-width="0.8" opacity="0.3"/>
<line x1="521.8" y1="148.1" x2="537.9" y2="154.3" stroke="#4a54f2" stroke-width="0.8" opacity="0.3"/>
<line x1="522.9" y1="147.8" x2="539.2" y2="154.1" stroke="#3b239f" stroke-width="0.8" opacity="0.3"/>
<line x1="524.2" y1="147.8" x2="540.5" y2="154.1" stroke="#4a54f2" stroke-width="0.8" opacity="0.3"/>
<line x1="525.3" y1="147.5" x2="541.7" y2="153.9" stroke="#3b239f" stroke-width="0.8" opacity="0.3"/>
<line x1="526.6" y1="147.5" x2="543.0" y2="153.9" stroke="#4a54f2" stroke-width="0.8" opacity="0.3"/>
<line x1="527.7" y1="147.2" x2="544.3" y2="153.7" stroke="#3b239f" stroke-width="0.8" opacity="0.3"/>
<line x1="529.0" y1="147.2" x2="545.6" y2="153.7" stroke="#4a54f2" stroke-width="0.8" opacity="0.3"/>
<line x1="397.0" y1="162.5" x2="428.7" y2="174.8" stroke="url(#fadeLt)" stroke-width="7.0" opacity="0.45" filter="url(#blur05)"/>
<line x1="423.0" y1="160.5" x2="454.7" y2="172.8" stroke="url(#fadeLt)" stroke-width="5.0" opacity="0.40" filter="url(#blur05)"/>
<line x1="434.0" y1="159.1" x2="465.7" y2="171.4" stroke="url(#fadeLt)" stroke-width="3.5" opacity="0.35" filter="url(#blur05)"/>
<line x1="442.0" y1="158.3" x2="473.7" y2="170.6" stroke="url(#fadeLt)" stroke-width="3.0" opacity="0.30" filter="url(#blur05)"/>
<line x1="449.0" y1="157.5" x2="480.7" y2="169.8" stroke="url(#fadeLt)" stroke-width="2.5" opacity="0.25" filter="url(#blur05)"/>
<line x1="455.0" y1="156.8" x2="486.7" y2="169.1" stroke="url(#fadeLt)" stroke-width="2.2" opacity="0.20" filter="url(#blur05)"/>
<line x1="412.0" y1="166.0" x2="440.0" y2="176.8" stroke="url(#fadeDk)" stroke-width="6.0" opacity="0.45" filter="url(#blur05)"/>
<line x1="429.5" y1="162.5" x2="457.5" y2="173.3" stroke="url(#fadeDk)" stroke-width="3.5" opacity="0.35" filter="url(#blur05)"/>
<line x1="438.5" y1="160.5" x2="466.5" y2="171.3" stroke="url(#fadeDk)" stroke-width="3.0" opacity="0.30" filter="url(#blur05)"/>
<line x1="445.5" y1="159.3" x2="473.5" y2="170.1" stroke="url(#fadeDk)" stroke-width="2.4" opacity="0.25" filter="url(#blur05)"/>
</g>
<polygon points="483.76,203.51 484.60,201.15 485.44,203.31" fill="#fff"/>
<polygon points="485.82,203.27 486.70,200.69 487.58,203.06" fill="#fff"/>
<polygon points="488.02,203.01 488.90,200.21 489.78,202.80" fill="#fff"/>
<polygon points="490.22,202.75 491.10,199.73 491.98,202.54" fill="#fff"/>
<polygon points="492.42,202.48 493.30,199.25 494.18,202.28" fill="#fff"/>
<polygon points="494.46,202.24 495.50,198.77 496.54,202.00" fill="#fff"/>
<polygon points="497.10,201.93 498.10,198.20 499.10,201.69" fill="#fff"/>
<polygon points="499.60,201.63 500.60,197.65 501.60,201.40" fill="#fff"/>
<polygon points="502.06,201.34 503.10,197.09 504.14,201.10" fill="#fff"/>
<polygon points="504.58,201.04 505.70,196.50 506.82,200.78" fill="#fff"/>
<polygon points="507.18,200.74 508.50,195.87 509.82,200.42" fill="#fff"/>
<polygon points="510.44,200.35 511.80,195.13 513.16,200.03" fill="#fff"/>
<polygon points="513.84,199.95 515.20,194.37 516.56,199.63" fill="#fff"/>
<polygon points="517.24,199.55 518.60,193.62 519.96,199.22" fill="#fff"/>
<polygon points="520.56,199.15 522.00,192.88 523.44,198.81" fill="#fff"/>
<polygon points="524.08,198.74 525.60,192.08 527.12,198.38" fill="#fff"/>
<polygon points="527.84,198.29 529.40,191.16 530.96,197.92" fill="#fff"/>
<polygon points="531.70,197.83 533.30,190.27 534.90,197.46" fill="#fff"/>
<polygon points="535.82,197.35 537.30,190.09 538.78,197.00" fill="#fff"/>
<polygon points="539.40,196.92 541.00,189.93 542.60,196.54" fill="#fff"/>
<polygon points="543.40,196.45 545.00,190.06 546.60,196.07" fill="#fff"/>
<polygon points="548.44,195.85 549.00,190.23 552.38,195.38" fill="#fff"/>
<polygon points="553.08,195.30 553.70,190.43 557.44,194.79" fill="#fff"/>
<polygon points="558.29,194.69 558.90,190.23 562.57,194.18" fill="#fff"/>
<polygon points="563.30,194.09 564.00,189.71 568.18,193.52" fill="#fff"/>
<polygon points="569.01,193.42 569.80,189.02 574.55,192.76" fill="#fff"/>
<polygon points="575.61,192.64 576.40,188.24 581.15,191.98" fill="#fff"/>
<polygon points="582.04,191.87 583.00,187.46 588.76,191.08" fill="#fff"/>
<polygon points="589.96,190.94 591.00,186.51 597.26,190.07" fill="#fff"/>
<polygon points="533.80,147.00 534.80,144.00 535.70,138.50 536.15,130.00 536.25,104.80 537.30,104.80 537.50,130.00 538.00,138.50 539.00,144.00 540.00,147.50 538.00,153.00 535.50,153.00" fill="url(#spikeB1)"/>
<polygon points="540.50,147.00 541.30,144.00 542.30,138.50 542.60,130.00 542.60,55.90 543.90,55.90 544.00,130.00 544.50,138.50 545.30,144.00 546.40,146.50 545.00,153.00 542.30,153.00" fill="url(#spikeB2)"/>
</g>
<line x1="391.50" y1="169.00" x2="391.50" y2="21.50" stroke="#262626" stroke-width="0.7"/>
<line x1="391.50" y1="169.00" x2="483.00" y2="203.00" stroke="#262626" stroke-width="0.7"/>
<line x1="483.00" y1="203.00" x2="643.50" y2="184.00" stroke="#262626" stroke-width="0.7"/>
<line x1="391.50" y1="169.00" x2="387.00" y2="167.33" stroke="#262626" stroke-width="0.7"/>
<line x1="391.50" y1="132.10" x2="387.00" y2="130.43" stroke="#262626" stroke-width="0.7"/>
<line x1="391.50" y1="95.20" x2="387.00" y2="93.53" stroke="#262626" stroke-width="0.7"/>
<line x1="391.50" y1="58.30" x2="387.00" y2="56.63" stroke="#262626" stroke-width="0.7"/>
<line x1="391.50" y1="21.40" x2="387.00" y2="19.73" stroke="#262626" stroke-width="0.7"/>
<line x1="391.50" y1="169.00" x2="387.53" y2="169.47" stroke="#262626" stroke-width="0.7"/>
<line x1="437.25" y1="186.00" x2="433.28" y2="186.47" stroke="#262626" stroke-width="0.7"/>
<line x1="483.00" y1="203.00" x2="479.03" y2="203.47" stroke="#262626" stroke-width="0.7"/>
<line x1="483.00" y1="203.00" x2="486.75" y2="204.39" stroke="#262626" stroke-width="0.7"/>
<line x1="563.25" y1="193.50" x2="567.00" y2="194.89" stroke="#262626" stroke-width="0.7"/>
<line x1="643.50" y1="184.00" x2="647.25" y2="185.39" stroke="#262626" stroke-width="0.7"/>
<text x="383.10" y="24.75" font-size="15" font-family='"Liberation Sans", Arial, sans-serif' text-anchor="end" fill="#111" stroke="#111" stroke-width="0.3" >40</text>
<text x="383.10" y="61.75" font-size="15" font-family='"Liberation Sans", Arial, sans-serif' text-anchor="end" fill="#111" stroke="#111" stroke-width="0.3" >30</text>
<text x="383.10" y="98.60" font-size="15" font-family='"Liberation Sans", Arial, sans-serif' text-anchor="end" fill="#111" stroke="#111" stroke-width="0.3" >20</text>
<text x="383.10" y="135.60" font-size="15" font-family='"Liberation Sans", Arial, sans-serif' text-anchor="end" fill="#111" stroke="#111" stroke-width="0.3" >10</text>
<text x="383.10" y="172.00" font-size="15" font-family='"Liberation Sans", Arial, sans-serif' text-anchor="end" fill="#111" stroke="#111" stroke-width="0.3" >0</text>
<text x="378.00" y="186.00" font-size="15" font-family='"Liberation Sans", Arial, sans-serif' text-anchor="middle" fill="#111" stroke="#111" stroke-width="0.3" >2</text>
<text x="423.80" y="202.30" font-size="15" font-family='"Liberation Sans", Arial, sans-serif' text-anchor="middle" fill="#111" stroke="#111" stroke-width="0.3" >1</text>
<text x="469.50" y="219.70" font-size="15" font-family='"Liberation Sans", Arial, sans-serif' text-anchor="middle" fill="#111" stroke="#111" stroke-width="0.3" >0</text>
<text x="495.30" y="221.80" font-size="15" font-family='"Liberation Sans", Arial, sans-serif' text-anchor="middle" fill="#111" stroke="#111" stroke-width="0.3" >0</text>
<text x="584.20" y="213.00" font-size="15" font-family='"Liberation Sans", Arial, sans-serif' text-anchor="middle" fill="#111" stroke="#111" stroke-width="0.3" >500</text>
<text x="652.20" y="202.60" font-size="15" font-family='"Liberation Sans", Arial, sans-serif' text-anchor="start" fill="#111" stroke="#111" stroke-width="0.3" >1000</text>
<text x="437.50" y="220.00" font-size="16.5" font-family='"Liberation Sans", Arial, sans-serif' text-anchor="middle" fill="#111" stroke="#111" stroke-width="0.3" >p</text>
<text x="552.00" y="230.10" font-size="16.5" font-family='"Liberation Sans", Arial, sans-serif' text-anchor="middle" fill="#111" stroke="#111" stroke-width="0.3" >u</text>
<text transform="translate(359.5,95.6) rotate(-90)" font-size="16.5" font-family='"Liberation Sans", Arial, sans-serif' text-anchor="middle" fill="#111" stroke="#111" stroke-width="0.3">Amplitude</text>
<text x="549.10" y="257.00" font-size="16.5" font-family='"Liberation Serif", "Times New Roman", serif' text-anchor="middle" fill="#111" stroke="#111" stroke-width="0.3" >(b)</text>
</svg>
</body></html>
